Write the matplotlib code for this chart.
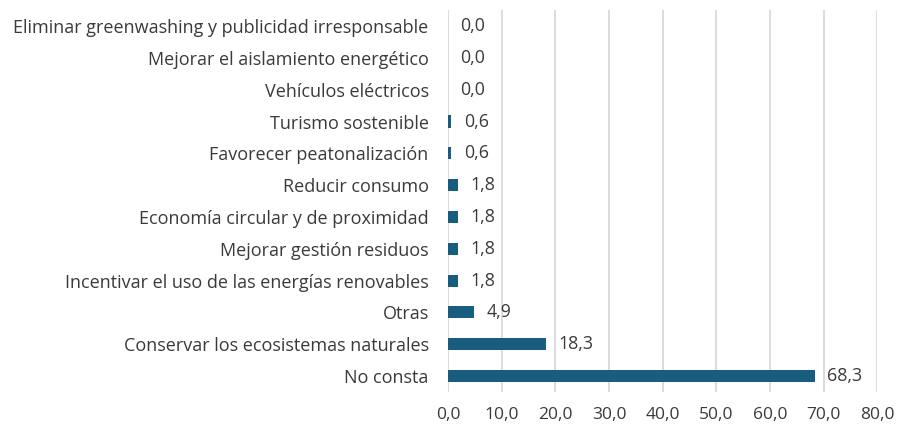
import matplotlib
matplotlib.use("Agg")
from matplotlib import pyplot as plt

# categories (bottom to top) and percentages
categorias = [
    "No consta",
    "Conservar los ecosistemas naturales",
    "Otras",
    "Incentivar el uso de las energías renovables",
    "Mejorar gestión residuos",
    "Economía circular y de proximidad",
    "Reducir consumo",
    "Favorecer peatonalización",
    "Turismo sostenible",
    "Vehículos eléctricos",
    "Mejorar el aislamiento energético",
    "Eliminar greenwashing y publicidad irresponsable",
]
valores = [68.3, 18.3, 4.9, 1.8, 1.8, 1.8, 1.8, 0.6, 0.6, 0.0, 0.0, 0.0]
ticks_x = [0, 10, 20, 30, 40, 50, 60, 70, 80]

plt.rcParams['font.family'] = ['Open Sans', 'DejaVu Sans']
texto = '#3a3a3a'

fig = plt.figure(figsize=(8.98, 4.24), dpi=100)
ax = fig.add_axes([0.499, 0.0755, 0.478, 0.9005])

pos = list(range(len(categorias)))
ax.barh(pos, valores, height=0.38, color='#185c7e', zorder=3)

for y, v in zip(pos, valores):
    ax.text(v + 2.3, y, f"{v:.1f}".replace('.', ','), va='center', ha='left',
            fontsize=12.8, color=texto)

ax.set_xlim(0, 80)
ax.set_ylim(-0.5, len(categorias) - 0.5)
ax.set_xticks(ticks_x)
ax.set_xticklabels([f"{t:.1f}".replace('.', ',') for t in ticks_x])
ax.set_yticks(pos)
ax.set_yticklabels(categorias, fontsize=13)
ax.tick_params(axis='both', length=0, colors=texto)
ax.tick_params(axis='x', labelsize=12.5, pad=11)
ax.tick_params(axis='y', pad=14)

ax.grid(axis='x', color='#d9d9d9', linewidth=1.3, zorder=0)
for s in ax.spines.values():
    s.set_visible(False)

plt.savefig('out.png', dpi=100)
